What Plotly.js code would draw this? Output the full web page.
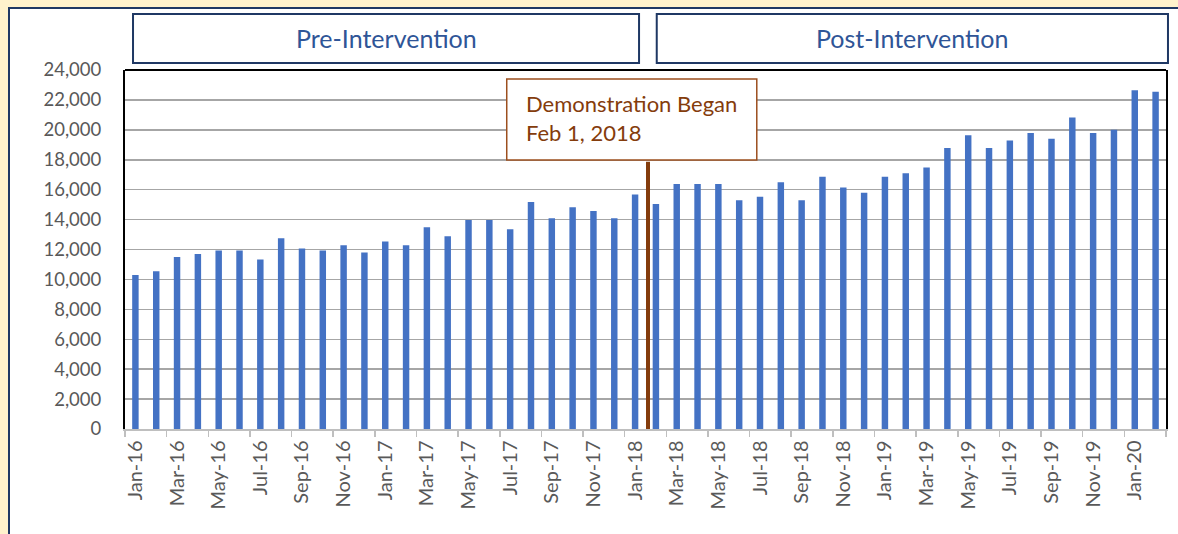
<!DOCTYPE html>
<html><head><meta charset="utf-8">
<script src="https://cdn.plot.ly/plotly-3.0.1.min.js"></script>
<style>
html,body{margin:0;padding:0;background:#fff;}
#chart{position:absolute;left:0;top:0;width:1178px;height:534px;}
.strip{position:absolute;pointer-events:none;}
</style></head><body>
<div id="chart"></div>
<div class="strip" style="left:0;top:0;width:1178px;height:7px;background:#FFF2CC"></div>
<div class="strip" style="left:0;top:0;width:8px;height:534px;background:#FFF2CC"></div>
<div class="strip" style="left:8px;top:7px;width:1170px;height:2px;background:#1F3864"></div>
<div class="strip" style="left:8px;top:7px;width:2px;height:527px;background:#1F3864"></div>
<script>
const months = ["Jan-16","Feb-16","Mar-16","Apr-16","May-16","Jun-16","Jul-16","Aug-16","Sep-16","Oct-16","Nov-16","Dec-16",
  "Jan-17","Feb-17","Mar-17","Apr-17","May-17","Jun-17","Jul-17","Aug-17","Sep-17","Oct-17","Nov-17","Dec-17",
  "Jan-18","Feb-18","Mar-18","Apr-18","May-18","Jun-18","Jul-18","Aug-18","Sep-18","Oct-18","Nov-18","Dec-18",
  "Jan-19","Feb-19","Mar-19","Apr-19","May-19","Jun-19","Jul-19","Aug-19","Sep-19","Oct-19","Nov-19","Dec-19",
  "Jan-20","Feb-20"];
const counts = [10300,10550,11500,11700,11930,11930,11330,12750,12070,11930,12290,11800,
  12530,12290,13490,12890,13980,13980,13350,15170,14090,14820,14580,14090,
  15670,15050,16380,16380,16380,15290,15530,16490,15290,16870,16150,15800,
  16870,17100,17480,18790,19630,18790,19290,19780,19400,20830,19780,20010,
  22650,22540];
const periodLabels = ["Pre-Intervention","Post-Intervention"];
const demoText = "Demonstration Began<br>Feb 1, 2018";
const demoX = 24.62;      // position between Jan-18 and Feb-18 (category index)
const demoLineTop = 17870; // top of the marker line in data units

const font = "Lato, 'Open Sans', sans-serif";
const navy = "#1F3864";
const brown = "#843C0C";

const trace = {
  type: "bar", x: months, y: counts,
  marker: {color: "#4472C4", line: {width: 0}},
  hoverinfo: "x+y"
};

const layout = {
  width: 1178, height: 534, autosize: false,
  margin: {l: 125, r: 12, t: 70, b: 105, pad: 0},
  paper_bgcolor: "#ffffff", plot_bgcolor: "#ffffff",
  showlegend: false,
  bargap: 0.69,
  xaxis: {
    type: "category", range: [-0.5, 49.5],
    tickmode: "linear", tick0: 0, dtick: 2,
    tickson: "boundaries", ticks: "outside", ticklen: 6, tickwidth: 1.5, tickcolor: "#BFBFBF",
    showline: true, linecolor: "#BFBFBF", linewidth: 1.5,
    showgrid: false, tickangle: -90, ticklabelstandoff: 2,
    tickfont: {family: font, size: 20, color: "#595959"}
  },
  yaxis: {
    range: [0, 24000], dtick: 2000, tick0: 0, tickformat: ",d",
    showgrid: true, gridcolor: "#A6A6A6", gridwidth: 1.5,
    zeroline: false, showline: true, linecolor: "#000000", linewidth: 2, mirror: true,
    ticks: "", ticklabelstandoff: 18,
    tickfont: {family: font, size: 18.5, color: "#595959"}
  },
  shapes: [
    {type: "line", xref: "paper", yref: "paper", x0: 0, x1: 1, y0: 1, y1: 1, line: {color: "#000", width: 2}},
    {type: "line", xref: "x", yref: "y", x0: demoX, x1: demoX, y0: 0, y1: demoLineTop, line: {color: brown, width: 4}},
    {type: "rect", xref: "paper", yref: "paper", x0: 0.3667, x1: 0.6069, y0: 0.7493, y1: 0.9749,
     fillcolor: "#ffffff", line: {color: "#9C4F1E", width: 1.5}},
    {type: "rect", xref: "paper", yref: "paper", x0: 0.0077, x1: 0.4938, y0: 1.0195, y1: 1.1560,
     fillcolor: "#ffffff", line: {color: navy, width: 2}},
    {type: "rect", xref: "paper", yref: "paper", x0: 0.5108, x1: 1.0019, y0: 1.0195, y1: 1.1560,
     fillcolor: "#ffffff", line: {color: navy, width: 2}}
  ],
  annotations: [
    {xref: "paper", yref: "paper", x: (0.0077 + 0.4938) / 2, y: 1.0878, text: periodLabels[0],
     showarrow: false, xanchor: "center", yanchor: "middle", font: {family: font, size: 25, color: "#2F5597"}},
    {xref: "paper", yref: "paper", x: (0.5108 + 1.0019) / 2, y: 1.0878, text: periodLabels[1],
     showarrow: false, xanchor: "center", yanchor: "middle", font: {family: font, size: 25, color: "#2F5597"}},
    {xref: "paper", yref: "paper", x: 0.3833, y: 0.866, text: demoText, align: "left",
     showarrow: false, xanchor: "left", yanchor: "middle", font: {family: font, size: 22, color: brown}}
  ]
};

Plotly.newPlot("chart", [trace], layout, {displayModeBar: false, staticPlot: true});
</script>
</body></html>
